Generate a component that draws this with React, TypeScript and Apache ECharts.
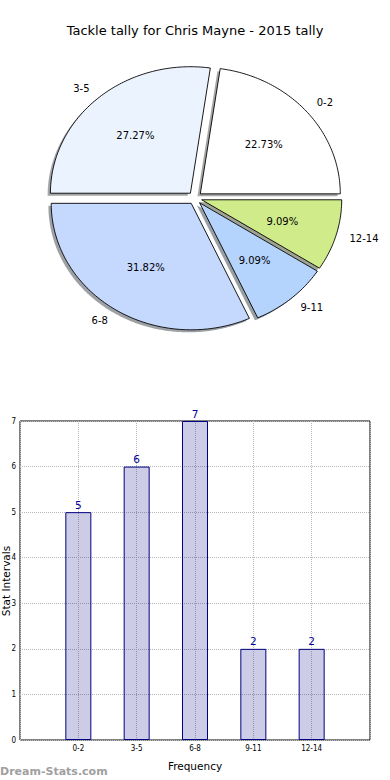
import React, { useEffect, useRef } from "react";
import * as echarts from "echarts";

const titleText = "Tackle tally for Chris Mayne - 2015 tally";
const categories = ["0-2", "3-5", "6-8", "9-11", "12-14"];
const counts = [5, 6, 7, 2, 2];
const yTicks = [0, 1, 2, 3, 4, 5, 6, 7];
const pieColors = ["#ffffff", "#ebf3fe", "#c5d8fe", "#b4d4fe", "#d0eb8a"];
const yAxisTitle = "Stat Intervals";
const xAxisTitle = "Frequency";

const FONT = "DejaVu Sans, Verdana, sans-serif";

const total = counts.reduce((a, b) => a + b, 0);
const cum: number[] = [];
counts.reduce((acc, c, i) => {
  cum[i] = acc;
  return acc + c;
}, 0);

// pie geometry (elliptical, like the matplotlib figure with unequal aspect)
const PCX = 195;
const PCY = 198;
const RX = 140;
const RY = 126.5;
const EXPLODE = 0.05;

function wedge(i: number, dx: number, dy: number) {
  const a0 = (cum[i] / total) * Math.PI * 2;
  const a1 = ((cum[i] + counts[i]) / total) * Math.PI * 2;
  const am = (a0 + a1) / 2;
  const ox = PCX + EXPLODE * RX * Math.cos(am) + dx;
  const oy = PCY - EXPLODE * RY * Math.sin(am) + dy;
  const pts: number[][] = [[ox, oy]];
  const steps = Math.max(8, Math.ceil(((a1 - a0) * 180) / Math.PI));
  for (let k = 0; k <= steps; k++) {
    const a = a0 + ((a1 - a0) * k) / steps;
    pts.push([ox + RX * Math.cos(a), oy - RY * Math.sin(a)]);
  }
  return { pts, am, ox, oy };
}

function darken(hex: string) {
  const r = parseInt(hex.slice(1, 3), 16);
  const g = parseInt(hex.slice(3, 5), 16);
  const b = parseInt(hex.slice(5, 7), 16);
  return `rgba(${Math.round(r * 0.3)},${Math.round(g * 0.3)},${Math.round(b * 0.3)},0.5)`;
}

export default function App() {
  const ref = useRef<HTMLDivElement>(null);
  useEffect(() => {
    document.body.style.margin = "0";
    if (!ref.current) return;
    const chart = echarts.init(ref.current, null, { renderer: "svg" });
    const option: any = {
      animation: false,
      backgroundColor: "#ffffff",
      graphic: [
        {
          type: "text",
          x: 195,
          y: 30,
          style: {
            text: titleText,
            font: `13px ${FONT}`,
            fill: "#000",
            textAlign: "center",
            textVerticalAlign: "middle",
            align: "center",
            verticalAlign: "middle",
          },
        },
        {
          type: "text",
          x: 6,
          y: 581,
          rotation: Math.PI / 2,
          style: {
            text: yAxisTitle,
            font: `10.5px ${FONT}`,
            fill: "#000",
            textAlign: "center",
            textVerticalAlign: "middle",
            align: "center",
            verticalAlign: "middle",
          },
        },
        {
          type: "text",
          x: 0,
          y: 771,
          style: {
            text: "Dream-Stats.com",
            font: `bold 11px ${FONT}`,
            fill: "#a0a0a0",
            textAlign: "left",
            textVerticalAlign: "middle",
            align: "left",
            verticalAlign: "middle",
          },
        },
      ],
      grid: {
        left: 20,
        right: 20,
        top: 421,
        bottom: 40,
        show: true,
        containLabel: false,
        outerBoundsMode: "none",
        borderColor: "#000",
        borderWidth: 1,
        backgroundColor: "transparent",
      },
      xAxis: {
        type: "value",
        min: -1,
        max: 5,
        interval: 1,
        name: xAxisTitle,
        nameLocation: "middle",
        nameGap: 20,
        nameTextStyle: { fontFamily: FONT, fontSize: 10.5, color: "#000" },
        axisLine: { show: false },
        axisTick: { show: false },
        axisLabel: {
          fontFamily: "DejaVu Sans Condensed, DejaVu Sans, sans-serif",
          fontSize: 8,
          color: "#000",
          margin: 4,
          formatter: (v: number) => (categories[v] !== undefined ? categories[v] : ""),
        },
        splitLine: { show: true, lineStyle: { color: "#b8b8b8", type: "dotted", width: 1 } },
      },
      yAxis: {
        type: "value",
        min: yTicks[0],
        max: yTicks[yTicks.length - 1],
        interval: 1,
        axisLine: { show: false },
        axisTick: { show: false },
        axisLabel: {
          fontFamily: "DejaVu Sans Condensed, DejaVu Sans, sans-serif",
          fontSize: 8,
          color: "#000",
          margin: 4,
        },
        splitLine: { show: true, lineStyle: { color: "#b8b8b8", type: "dotted", width: 1 } },
      },
      series: [
        {
          type: "custom",
          coordinateSystem: "none",
          silent: true,
          data: counts,
          renderItem: (params: any) => {
            const i = params.dataIndex;
            const w = wedge(i, -2.8, 2.5);
            return {
              type: "polygon",
              shape: { points: w.pts },
              style: { fill: darken(pieColors[i]), stroke: "none" },
            };
          },
        },
        {
          type: "custom",
          coordinateSystem: "none",
          silent: true,
          data: counts,
          renderItem: (params: any) => {
            const i = params.dataIndex;
            const w = wedge(i, 0, 0);
            const lx = w.ox + 1.1 * RX * Math.cos(w.am);
            const ly = w.oy - 1.1 * RY * Math.sin(w.am);
            const px = w.ox + 0.6 * RX * Math.cos(w.am);
            const py = w.oy - 0.6 * RY * Math.sin(w.am);
            const ha = Math.cos(w.am) > 0 ? "left" : "right";
            const pct = ((counts[i] / total) * 100).toFixed(2) + "%";
            return {
              type: "group",
              children: [
                {
                  type: "polygon",
                  shape: { points: w.pts },
                  style: { fill: pieColors[i], stroke: "#000", lineWidth: 0.9 },
                },
                {
                  type: "text",
                  style: {
                    text: categories[i],
                    x: lx,
                    y: ly,
                    font: `10px ${FONT}`,
                    fill: "#000",
                    textAlign: ha,
                    align: ha,
                    textVerticalAlign: "middle",
                    verticalAlign: "middle",
                  },
                },
                {
                  type: "text",
                  style: {
                    text: pct,
                    x: px,
                    y: py,
                    font: `10px ${FONT}`,
                    fill: "#000",
                    textAlign: "center",
                    align: "center",
                    textVerticalAlign: "middle",
                    verticalAlign: "middle",
                  },
                },
              ],
            };
          },
        },
        {
          type: "bar",
          data: counts.map((c, i) => [i, c]),
          barWidth: 26,
          itemStyle: {
            color: "rgba(0,0,128,0.2)",
            borderColor: "#000080",
            borderWidth: 1,
          },
          label: {
            show: true,
            position: "top",
            distance: 2,
            color: "#00009a",
            fontFamily: FONT,
            fontSize: 10.5,
            formatter: (p: any) => String(p.value[1]),
          },
        },
      ],
    };
    chart.setOption(option);
    return () => chart.dispose();
  }, []);
  return <div ref={ref} style={{ width: 390, height: 780 }} />;
}
